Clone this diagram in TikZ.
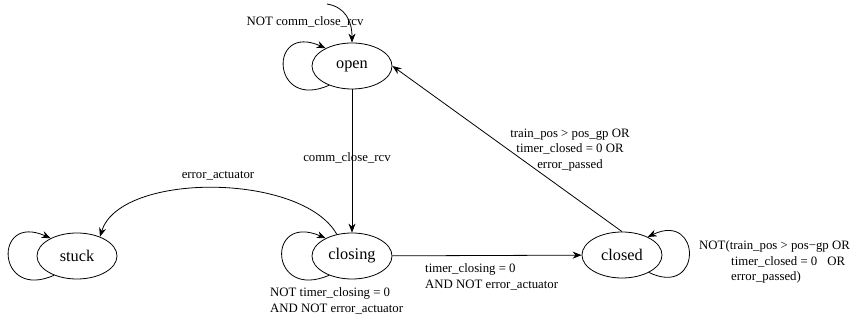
\documentclass[tikz,border=0pt]{standalone}
\usepackage{fontspec}
\setmainfont{Liberation Serif}
\usetikzlibrary{shapes.geometric,arrows.meta}

\begin{document}
\begin{tikzpicture}[
  x=1pt, y=-1pt,
  st/.style={ellipse, draw, line width=0.8pt, minimum width=80pt, minimum height=46pt,
    inner sep=0pt, font=\fontsize{16.3}{19}\selectfont},
  e/.style={line width=0.8pt, ->, >={Stealth[length=9pt,width=7pt]}},
  lbl/.style={inner sep=0pt, font=\fontsize{12.8}{15.8}\selectfont}
]
\useasboundingbox (0,0) rectangle (852,320);

\node[st] (open) at (352,66) {open};
\node[st] (closing) at (352,256) {closing};
\node[st] (stuck) at (77,256) {stuck};
\node[st] (closed) at (622,255) {closed};
\coordinate (init) at (327,4);

% start
\draw[e] (init) .. controls +(18,3) and +(0,-22) .. (open.north);

% self loops
\draw[e] (open.220) .. controls +(-58,26) and +(-58,-26) .. (open.146);
\draw[e] (closing.220) .. controls +(-60,26) and +(-60,-26) .. (closing.146);
\draw[e] (stuck.220) .. controls +(-58,26) and +(-58,-26) .. (stuck.146);
\draw[e] (closed.-33) .. controls +(54,26) and +(54,-26) .. (closed.35);

% transitions
\draw[e] (open) -- (closing);
\draw[e] (closing.125) .. controls +(-35,-62) and +(20,-65) .. (stuck.40);
\draw[e] (closing) -- (closed);
\draw[e] (closed.north) -- (open.east);

% labels
\node[lbl] (l-open) at (305,22) {NOT comm\_close\_rcv};
\node[lbl] (l-comm) at (347,158) {comm\_close\_rcv};
\node[lbl] (l-err) at (218,176) {error\_actuator};
\node[lbl, anchor=west, align=left] (l-closing) at (270,301)
  {NOT timer\_closing = 0\\AND NOT error\_actuator};
\node[lbl, anchor=west, align=left] (l-timer) at (425,276.5)
  {timer\_closing = 0\\AND NOT error\_actuator};
\node[lbl, align=center] (l-back) at (570,150)
  {train\_pos > pos\_gp OR\\timer\_closed = 0 OR\\error\_passed};
\node[lbl, anchor=west, align=left] (l-closed) at (699,262)
  {NOT(train\_pos > pos−gp OR\\\hspace*{32pt}timer\_closed = 0\hspace{10pt}OR\\\hspace*{32pt}error\_passed)};
\end{tikzpicture}
\end{document}
